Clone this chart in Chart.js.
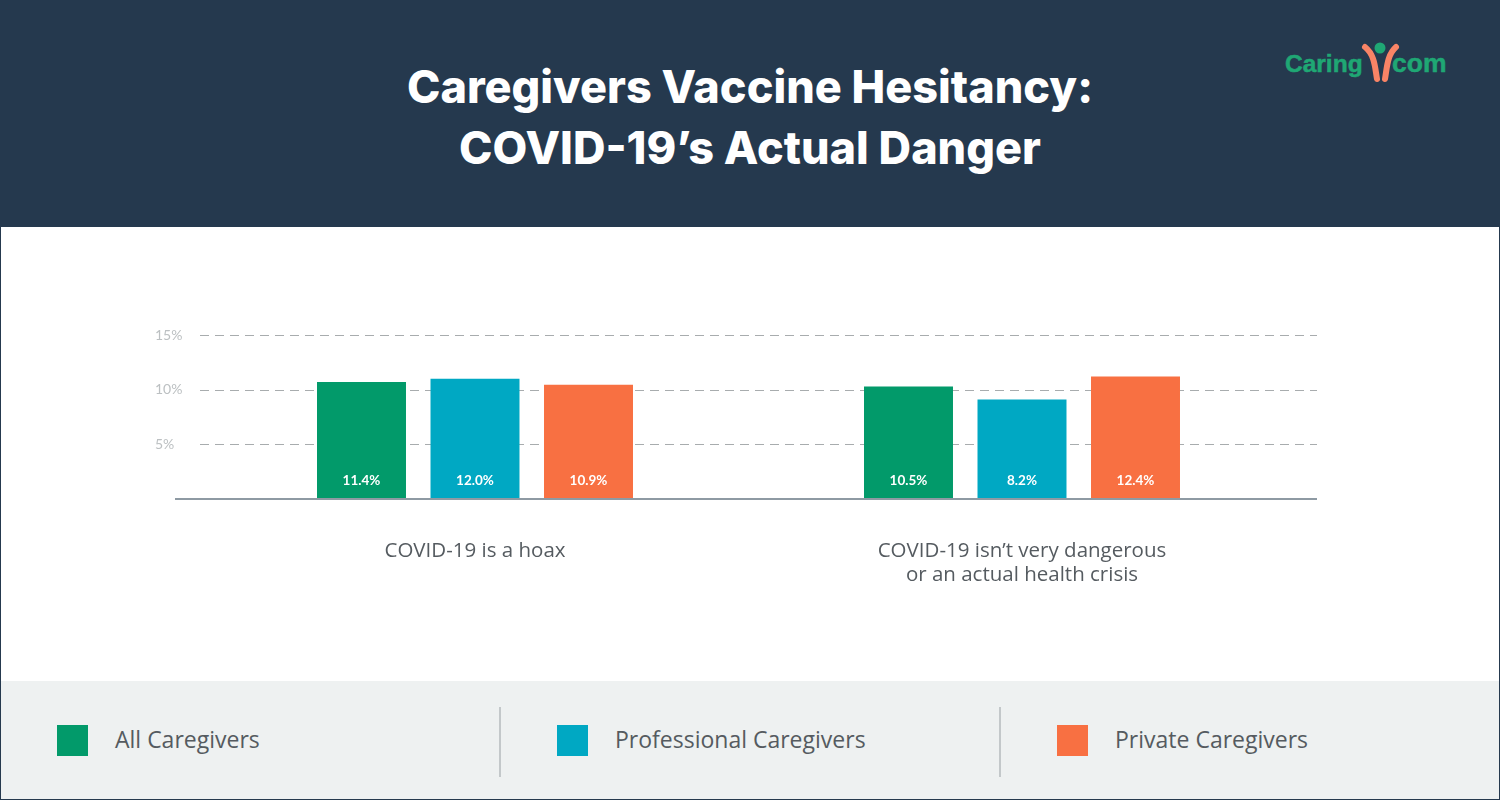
<!DOCTYPE html>
<html>
<head>
<meta charset="utf-8">
<title>Caregivers Vaccine Hesitancy</title>
<script src="https://cdn.jsdelivr.net/npm/chart.js@4"></script>
<style>
  html, body { margin: 0; padding: 0; background: #fff; }
  #page { position: relative; width: 1500px; height: 800px; overflow: hidden; font-family: 'Open Sans', sans-serif; }
  #head { position: absolute; left: 0; top: 0; width: 1500px; height: 227px; background: #25394e; }
  #head h1 { margin: 0; position: absolute; left: 0; width: 1500px; top: 56px; text-align: center; color: #fff;
    font: 800 45px/61px Inter, sans-serif; }
  #logo { position: absolute; left: 1285px; top: 40px; width: 165px; height: 44px; }
  #cv { position: absolute; left: 0; top: 0; }
  #foot { position: absolute; left: 0; top: 681px; width: 1500px; height: 119px; background: #eef1f1; }
  .item { position: absolute; top: 0; height: 119px; }
  .item i { position: absolute; left: 0; top: 44px; width: 31px; height: 31px; }
  .item span { position: absolute; left: 58px; top: 41px; font-size: 23px; line-height: 34px; color: #555b60; white-space: nowrap; }
  .sep { position: absolute; top: 26px; width: 2px; height: 70px; background: #c3c8ca; }
  #frame { position: absolute; left: 0; top: 0; width: 1498px; height: 798px; border: 1px solid #25394e; pointer-events: none; }
</style>
</head>
<body>
<div id="page">
  <div id="head">
    <h1>Caregivers Vaccine Hesitancy:<br>COVID-19’s Actual Danger</h1>
    <svg id="logo" viewBox="0 0 165 44">
      <text x="0" y="32" font-family="Liberation Sans" font-weight="700" font-size="24.5" fill="#1fa774" stroke="#1fa774" stroke-width="0.5">Caring</text>
      <text x="107" y="32" font-family="Liberation Sans" font-weight="700" font-size="26.5" fill="#1fa774" stroke="#1fa774" stroke-width="0.5">com</text>
      <circle cx="95" cy="8" r="5.5" fill="#1fa774"/>
      <path d="M80 7 C90 15 90 28 92 39 M111 7 C102 15 102 28 100 39" fill="none" stroke="#f98466" stroke-width="6" stroke-linecap="round"/>
    </svg>
  </div>
  <canvas id="cv" width="1500" height="800"></canvas>
  <div id="foot"></div>
  <div id="frame"></div>
</div>
<script>
const categories = ['COVID-19 is a hoax', ['COVID-19 isn’t very dangerous', 'or an actual health crisis']]
const seriesNames = ['All Caregivers', 'Professional Caregivers', 'Private Caregivers']
const seriesColors = ['#029a6a', '#00a8c3', '#f87042']

// bar heights as drawn in the picture, they don't follow the printed labels
const allHeights = [10.7, 10.3]
const proHeights = [11.0, 9.1]
const privHeights = [10.45, 11.2]

// printed labels
const allLabels = ['11.4%', '10.5%']
const proLabels = ['12.0%', '8.2%']
const privLabels = ['10.9%', '12.4%']

const yTicks = [5, 10, 15]

const GRID_LEFT = 200, AXIS_LEFT = 175, AXIS_RIGHT = 1317

// dashed grid and baseline run wider than the category band
const linesPlugin = {
  id: 'lines',
  beforeDatasetsDraw (chart) {
    const { ctx } = chart
    const y = chart.scales.y
    ctx.save()
    ctx.strokeStyle = '#a8acae'; ctx.lineWidth = 1; ctx.setLineDash([9, 6])
    yTicks.forEach(t => {
      const py = Math.round(y.getPixelForValue(t)) + 0.5
      ctx.beginPath(); ctx.moveTo(GRID_LEFT, py); ctx.lineTo(AXIS_RIGHT, py); ctx.stroke()
    })
    ctx.restore()
  },
  afterDatasetsDraw (chart) {
    const { ctx } = chart
    const py = chart.scales.y.getPixelForValue(0)
    ctx.save()
    ctx.strokeStyle = '#8e9aa3'; ctx.lineWidth = 2
    ctx.beginPath(); ctx.moveTo(AXIS_LEFT, py); ctx.lineTo(AXIS_RIGHT, py); ctx.stroke()
    ctx.restore()
  }
}

// white label sitting at the foot of each bar
const barLabels = {
  id: 'barLabels',
  afterDatasetsDraw (chart) {
    const { ctx } = chart
    const base = chart.scales.y.getPixelForValue(0)
    ctx.save()
    ctx.fillStyle = '#fff'; ctx.font = "700 13.5px Lato, sans-serif"
    ctx.textAlign = 'center'; ctx.textBaseline = 'middle'
    chart.data.datasets.forEach((ds, i) => {
      chart.getDatasetMeta(i).data.forEach((bar, j) => ctx.fillText(ds.printed[j], bar.x, base - 18))
    })
    ctx.restore()
  }
}

const heights = [allHeights, proHeights, privHeights]
const printed = [allLabels, proLabels, privLabels]

new Chart(document.getElementById('cv'), {
  type: 'bar',
  data: {
    labels: categories,
    datasets: seriesNames.map((name, i) => ({
      label: name, data: heights[i], printed: printed[i], backgroundColor: seriesColors[i],
      categoryPercentage: 0.6225, barPercentage: 0.784
    }))
  },
  options: {
    responsive: false, animation: false, devicePixelRatio: 1,
    layout: { padding: { left: 155, right: 204.5, top: 335, bottom: 201 } },
    plugins: { legend: { display: false }, tooltip: { enabled: false } },
    scales: {
      x: {
        grid: { display: false }, border: { display: false },
        afterFit (s) { s.height = 100 },
        ticks: { color: '#555b60', font: { size: 20.5, family: "'Open Sans'", lineHeight: 1.17 }, padding: 32, maxRotation: 0, autoSkip: false }
      },
      y: {
        min: 0, max: 15,
        grid: { display: false }, border: { display: false },
        afterFit (s) { s.width = 46.5 },
        afterBuildTicks (s) { s.ticks = yTicks.map(v => ({ value: v })) },
        ticks: { color: '#bcc0c2', font: { size: 14, family: 'Lato' }, crossAlign: 'far', callback: v => v + '%' }
      }
    }
  },
  plugins: [linesPlugin, barLabels]
})

// footer legend
const foot = document.getElementById('foot')
seriesNames.forEach((name, i) => {
  const it = document.createElement('div')
  it.className = 'item'
  it.style.left = (57 + i * 500) + 'px'
  it.innerHTML = '<i style="background:' + seriesColors[i] + '"></i><span>' + name + '</span>'
  foot.appendChild(it)
  if (i) {
    const s = document.createElement('div')
    s.className = 'sep'
    s.style.left = (i * 500 - 1) + 'px'
    foot.appendChild(s)
  }
})
</script>
</body>
</html>
